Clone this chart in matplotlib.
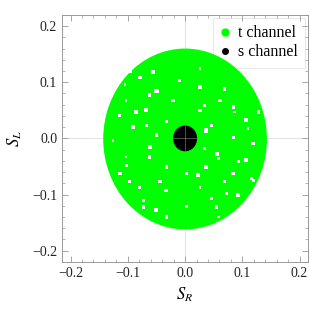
import matplotlib
matplotlib.use("Agg")
import matplotlib.pyplot as plt
from matplotlib.patches import Ellipse
from matplotlib.lines import Line2D
from matplotlib.ticker import MultipleLocator

plt.rcParams['font.family'] = ['Liberation Serif', 'DejaVu Serif']
plt.rcParams['mathtext.fontset'] = 'stix'

# allowed regions (centre, half widths in S_R, S_L)
t_center = (0.0, -0.001)
t_half = (0.143, 0.161)
s_center = (0.0, 0.0)
s_half = (0.021, 0.023)

# white gaps between the scan points of the t channel (rough positions and sizes)
gap_sr = [-0.079, -0.050, -0.009, 0.026, -0.103, -0.068, 0.061, 0.084, -0.091, -0.050,
          0.037, 0.084, 0.119, -0.103, -0.062, 0.002, 0.055, 0.084, -0.079, -0.033,
          0.026, 0.072, -0.050, 0.002, 0.055, 0.107, -0.126, -0.021, 0.026, 0.107,
          -0.114, 0.119, 0.037, -0.033, -0.073,
          -0.096, -0.056, -0.105, -0.062, -0.085, -0.033, -0.114, -0.067, -0.050,
          0.026, 0.069, 0.110, 0.034, 0.087, 0.128, 0.046, 0.110,
          -0.102, -0.062, -0.097, -0.044, -0.073, -0.033,
          0.034, 0.058, 0.093, 0.023, 0.069, 0.116, 0.046, 0.093, 0.058]
gap_sl = [0.109, 0.085, 0.103, 0.091, 0.068, 0.050, 0.068, 0.056, 0.020, 0.008,
          0.014, 0.002, -0.009, -0.033, -0.033, -0.063, -0.027, -0.063, -0.087, -0.093,
          -0.087, -0.098, -0.128, -0.122, -0.122, -0.039, -0.004, 0.068, 0.050, 0.032,
          -0.063, -0.075, -0.051, -0.051, -0.122,
          0.120, 0.118, 0.096, 0.077, 0.047, 0.030, 0.041, 0.023, 0.005,
          0.125, 0.088, 0.106, 0.059, 0.047, 0.047, 0.023, 0.017,
          -0.048, -0.015, -0.077, -0.077, -0.110, -0.140,
          -0.018, -0.036, -0.041, -0.065, -0.077, -0.071, -0.107, -0.101, -0.140]
gap_size = [6, 9, 5, 7, 4, 8, 6, 5, 7, 4,
            9, 5, 6, 4, 7, 5, 8, 6, 5, 7,
            4, 6, 8, 5, 6, 7, 4, 6, 5, 8,
            6, 4, 7, 5, 6,
            5, 7, 4, 6, 8, 5, 4, 6, 5,
            4, 7, 5, 6, 4, 5, 7, 4,
            6, 8, 5, 7, 4, 5,
            7, 5, 6, 8, 5, 4, 6, 7, 4]

green = '#00ff00'

fig = plt.figure(figsize=(3.1, 3.1), dpi=100)
ax = fig.add_axes([0.2, 0.155, 0.794, 0.797])

ax.axhline(0, color='#dddddd', lw=0.6, zorder=0)
ax.axvline(0, color='#dddddd', lw=0.6, zorder=0)

ax.add_patch(Ellipse(t_center, 2 * t_half[0], 2 * t_half[1], facecolor=green,
                     edgecolor='none', zorder=2))
ax.scatter(gap_sr, gap_sl, s=gap_size, marker='s', color='white', edgecolors='none', zorder=3)
ax.add_patch(Ellipse(s_center, 2 * s_half[0], 2 * s_half[1], facecolor='black',
                     edgecolor='none', zorder=4))
# light grid line shows through the black disc in the original
ax.plot([s_center[0] - s_half[0], s_center[0] + s_half[0]], [0, 0], color='#888888', lw=0.4, zorder=5)
ax.plot([0, 0], [s_center[1] - s_half[1], s_center[1] + s_half[1]], color='#888888', lw=0.4, zorder=5)

ax.set_xlim(-0.215, 0.215)
ax.set_ylim(-0.22, 0.22)

ax.xaxis.set_major_locator(MultipleLocator(0.1))
ax.yaxis.set_major_locator(MultipleLocator(0.1))
ax.xaxis.set_minor_locator(MultipleLocator(0.02))
ax.yaxis.set_minor_locator(MultipleLocator(0.02))
ax.xaxis.set_major_formatter(lambda v, p: f"{v:.1f}".replace('-', '\u2212'))
ax.yaxis.set_major_formatter(lambda v, p: f"{v:.1f}".replace('-', '\u2212'))
ax.tick_params(which='both', direction='in', top=True, right=True, color='#999999',
               labelsize=10, labelcolor='#222222')
ax.tick_params(which='major', length=4, width=0.6)
ax.tick_params(which='minor', length=2, width=0.5)
for sp in ax.spines.values():
    sp.set_color('#999999')
    sp.set_linewidth(0.7)

ax.set_xlabel(r'$S_R$', fontsize=12, labelpad=4)
ax.set_ylabel(r'$S_L$', fontsize=12, labelpad=6)

handles = [Line2D([], [], ls='none', marker='o', ms=5, color=green, label='t channel'),
           Line2D([], [], ls='none', marker='o', ms=4, color='black', label='s channel')]
leg = ax.legend(handles=handles, loc='upper right', fontsize=11.5, frameon=True,
                fancybox=False, edgecolor='#dddddd', facecolor='none', handlelength=0.6,
                handletextpad=0.5, borderpad=0.45, labelspacing=0.2,
                borderaxespad=0.2)
leg.get_frame().set_linewidth(0.6)
leg.set_zorder(1)  # scan points sit over the legend box, as in the original

fig.savefig('out.png', dpi=100)
